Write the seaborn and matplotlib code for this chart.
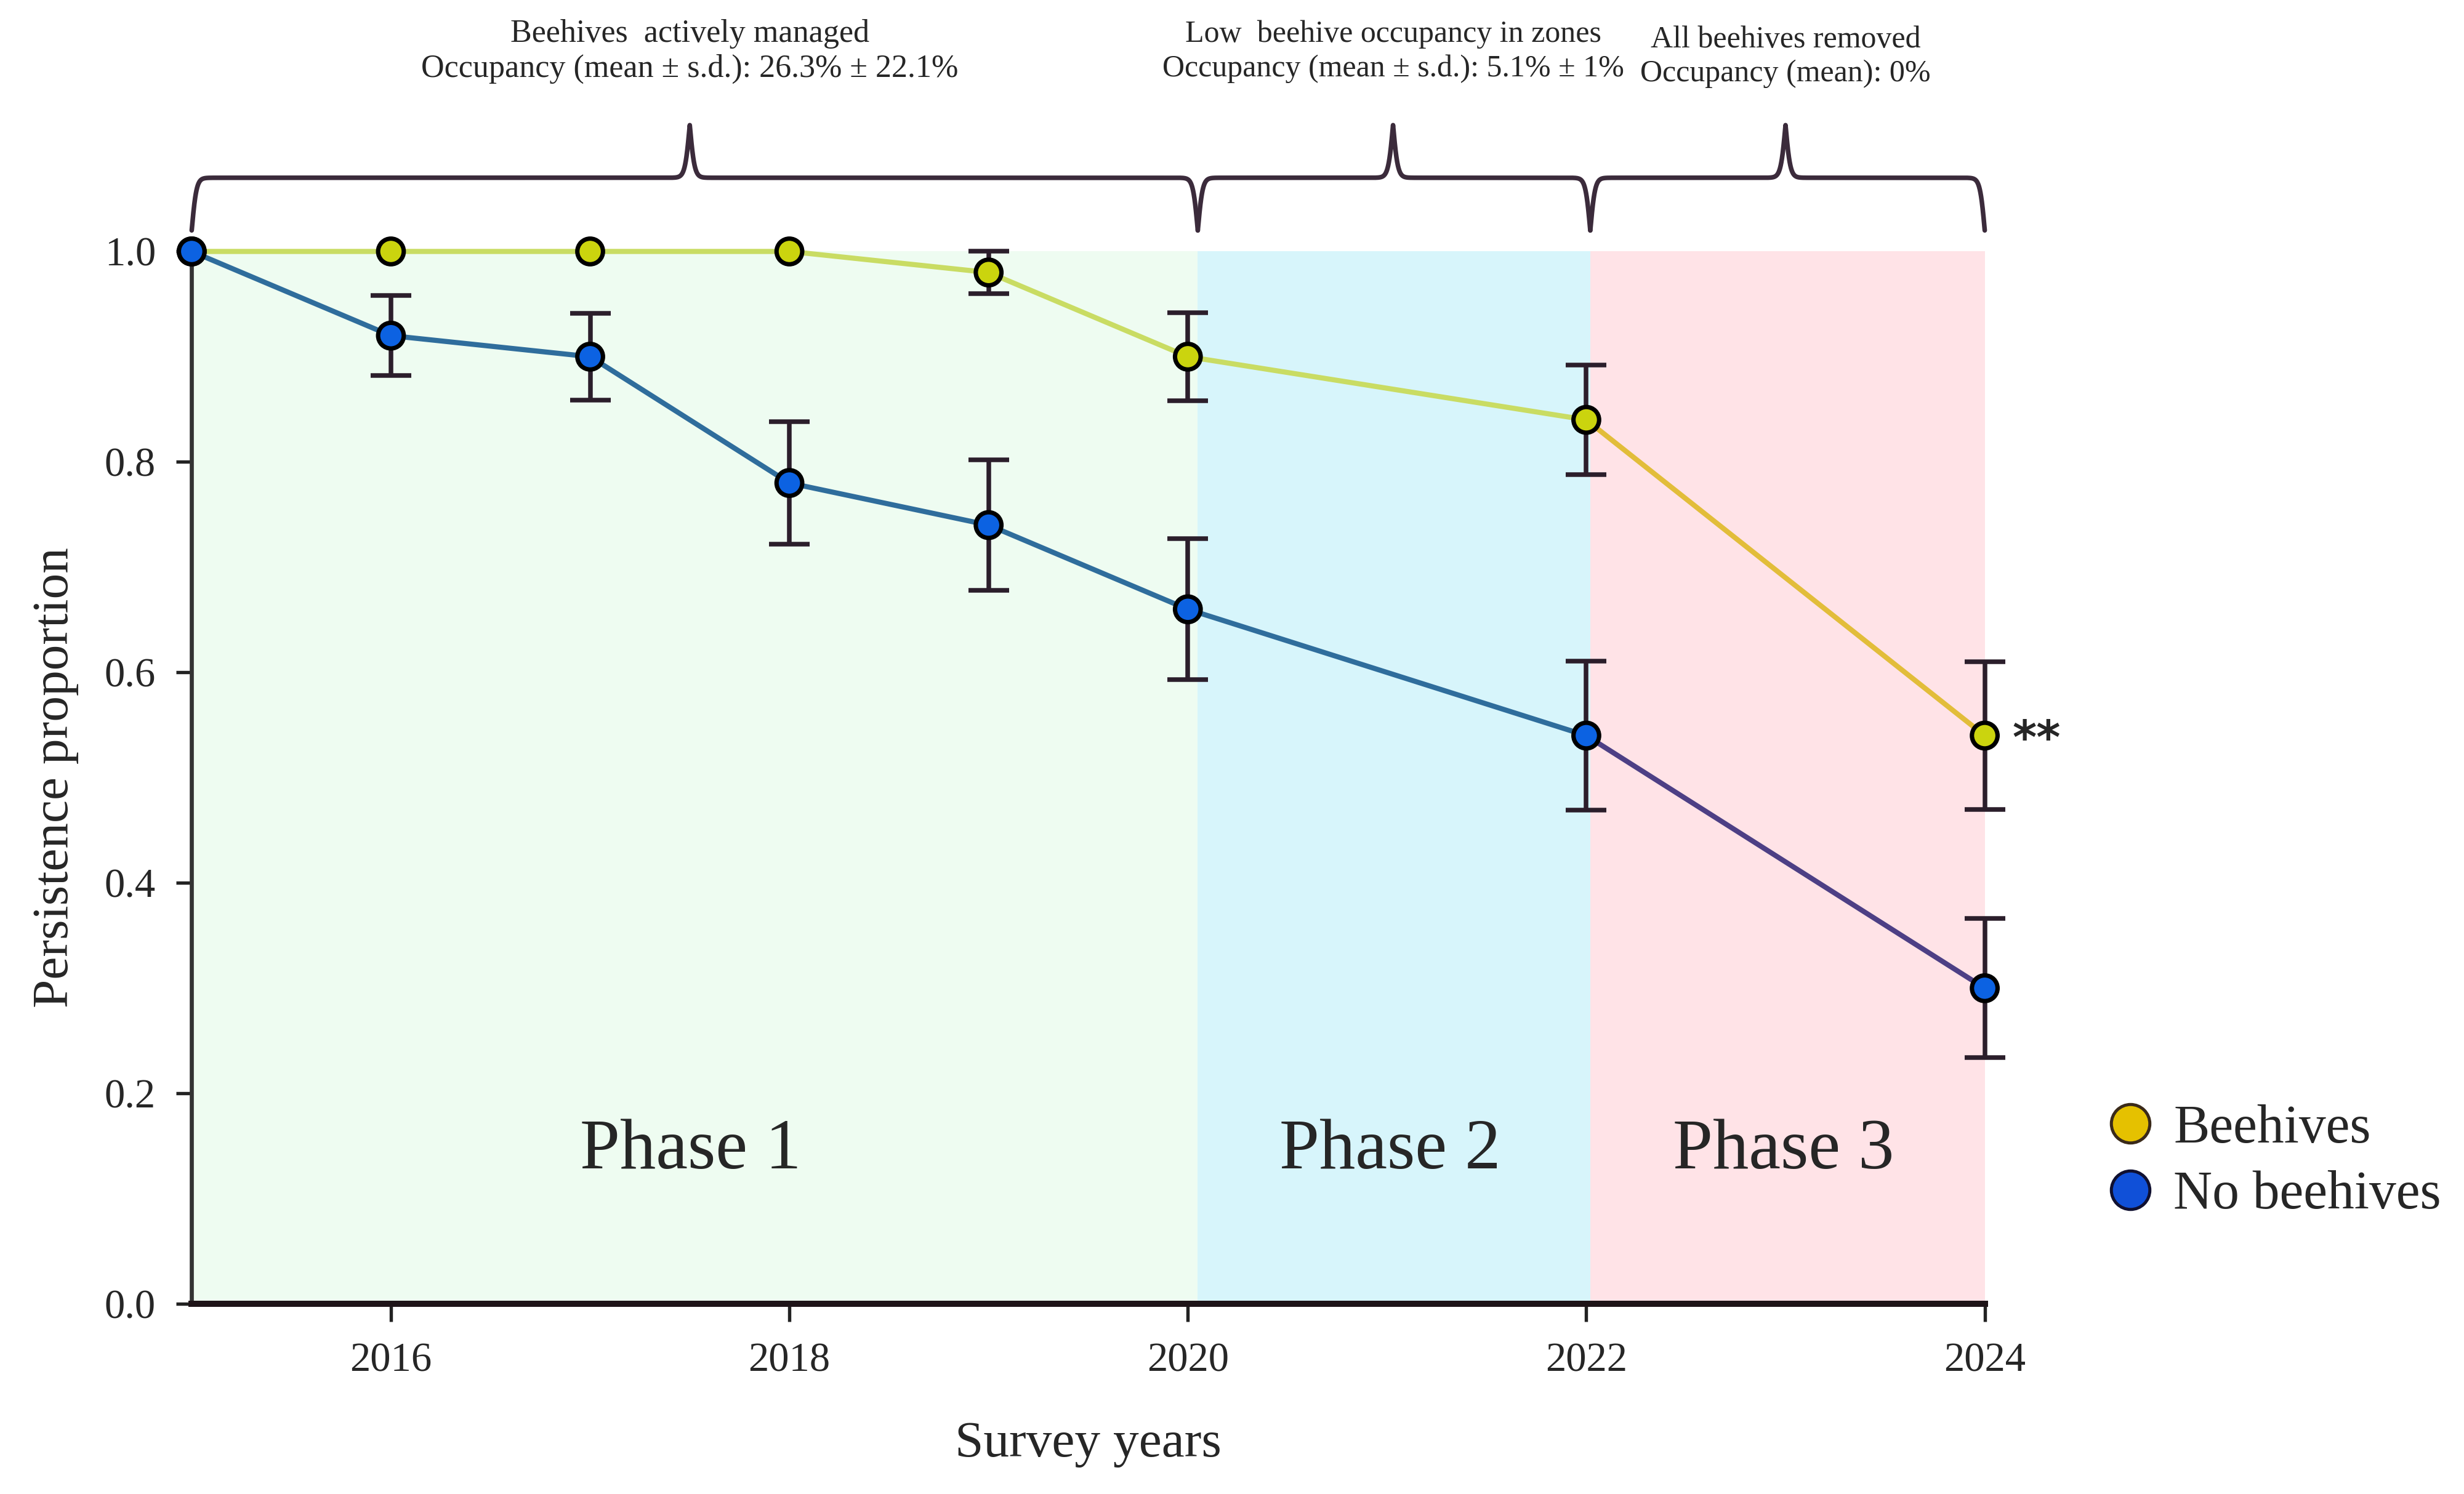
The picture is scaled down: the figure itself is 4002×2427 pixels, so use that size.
import numpy as np
import pandas as pd
import matplotlib.pyplot as plt
import seaborn as sns
from matplotlib.lines import Line2D

# values
years = [2015, 2016, 2017, 2018, 2019, 2020, 2022, 2024]
hive_mean = [1.00, 1.00, 1.00, 1.00, 0.98, 0.90, 0.84, 0.54]
hive_err = [0, 0, 0, 0, 0.02, 0.042, 0.052, 0.07]
nohive_mean = [1.00, 0.92, 0.90, 0.78, 0.74, 0.66, 0.54, 0.30]
nohive_err = [0, 0.038, 0.041, 0.058, 0.062, 0.067, 0.071, 0.066]
groups = ["Beehives", "No beehives"]

phase_edges = [2015, 2020.05, 2022.02, 2024]
phase_tips = [2017.5, 2021.03, 2023.0]
phase_names = ["Phase 1", "Phase 2", "Phase 3"]
phase_notes = [
    "Beehives  actively managed\nOccupancy (mean \u00b1 s.d.): 26.3% \u00b1 22.1%",
    "Low  beehive occupancy in zones\nOccupancy (mean \u00b1 s.d.): 5.1% \u00b1 1%",
    "All beehives removed\nOccupancy (mean): 0%",
]
phase_colors = ["#eefcf1", "#d7f5fb", "#ffe3e7"]

df = pd.DataFrame({
    "year": years * 2,
    "value": hive_mean + nohive_mean,
    "err": hive_err + nohive_err,
    "group": [groups[0]] * len(years) + [groups[1]] * len(years),
})

sns.set_style("ticks")
plt.rcParams["font.family"] = ["Liberation Serif", "DejaVu Serif"]

fig = plt.figure(figsize=(13.34, 8.09), dpi=300)
ax = fig.add_axes([0.0778, 0.1272, 0.7277, 0.7045])

# phase shading
for i in range(3):
    ax.fill_between([phase_edges[i], phase_edges[i + 1]], 0, 1,
                    color=phase_colors[i], lw=0, zorder=0)
    ax.text((phase_edges[i] + phase_edges[i + 1]) / 2 - 0.02, 0.145,
            phase_names[i], ha="center", va="center", fontsize=28)


def brace(x0, x1, xm, y, h, s=0.012):
    sig = lambda t: 1 / (1 + np.exp(-t))
    xa = np.linspace(x0, xm, 3000)
    xb = np.linspace(xm, x1, 3000)
    ya = sig((xa - x0) / s) + sig((xa - xm) / s) - 1
    yb = sig((x1 - xb) / s) + sig((xm - xb) / s) - 1
    xs = np.concatenate([xa, xb])
    ys = y + h * np.concatenate([ya, yb])
    ax.plot(xs, ys, color="#3b2b3b", lw=1.8, clip_on=False, zorder=5)


note_y = [1.19, 1.19, 1.185]
note_size = [12.5, 12, 12]
for i in range(3):
    brace(phase_edges[i], phase_edges[i + 1], phase_tips[i], 1.07, 0.1)
    ax.text(phase_tips[i], note_y[i], phase_notes[i], ha="center", va="center",
            fontsize=note_size[i], linespacing=1.25, clip_on=False)

# lines (colour changes after 2022)
early = df[df["year"] <= 2022]
late = df[df["year"] >= 2022]
sns.lineplot(data=early, x="year", y="value", hue="group", estimator=None,
             palette={"Beehives": "#c9dc63", "No beehives": "#2f6d9c"},
             lw=2, legend=False, ax=ax, clip_on=False, zorder=2)
sns.lineplot(data=late, x="year", y="value", hue="group", estimator=None,
             palette={"Beehives": "#e2bd3a", "No beehives": "#4d3f85"},
             lw=2, legend=False, ax=ax, clip_on=False, zorder=2)

# error bars
for g in groups:
    sub = df[(df["group"] == g) & (df["err"] > 0)]
    eb = ax.errorbar(sub["year"], sub["value"], yerr=sub["err"], fmt="none",
                     ecolor="#2b1e2b", elinewidth=1.8, capsize=8, capthick=1.8,
                     zorder=3)
    for part in eb.get_children():
        part.set_clip_on(False)

sns.scatterplot(data=df, x="year", y="value", hue="group",
                palette={"Beehives": "#cbd40e", "No beehives": "#0c62e2"},
                s=100, edgecolor="black", linewidth=1.7, legend=False,
                ax=ax, zorder=4, clip_on=False)

ax.text(2024.26, 0.535, "**", ha="center", va="center", fontsize=18,
        fontweight="bold", family="DejaVu Sans")

ax.set_xlim(2015, 2024)
ax.set_ylim(0, 1.0)
ax.set_xticks([2016, 2018, 2020, 2022, 2024])
ax.set_yticks(np.arange(0, 1.01, 0.2))
ax.set_yticklabels([f"{v:.1f}" for v in np.arange(0, 1.01, 0.2)])
ax.tick_params(axis="both", labelsize=16, direction="out", width=1.3,
               color="#222222")
ax.tick_params(axis="x", length=7, pad=8)
ax.tick_params(axis="y", length=6, pad=8)
for side in ["top", "right"]:
    ax.spines[side].set_visible(False)
ax.spines["bottom"].set_linewidth(2.4)
ax.spines["left"].set_linewidth(1.6)
ax.spines["bottom"].set_color("#1e1418")
ax.spines["left"].set_color("#333333")
ax.set_xlabel("Survey years", fontsize=20, labelpad=16)
ax.set_ylabel("Persistence proportion", fontsize=20, labelpad=10)

handles = [
    Line2D([], [], marker="o", ls="", markersize=15,
           markerfacecolor="#e5c100", markeredgecolor="#3a2a1a", markeredgewidth=1.2),
    Line2D([], [], marker="o", ls="", markersize=15,
           markerfacecolor="#1050d8", markeredgecolor="#101030", markeredgewidth=1.2),
]
fig.legend(handles, groups, loc="center left", bbox_to_anchor=(0.834, 0.222),
           frameon=False, fontsize=21, handletextpad=0.3, labelspacing=0.3,
           handlelength=1.0)

fig.savefig("out.png", dpi=300)
